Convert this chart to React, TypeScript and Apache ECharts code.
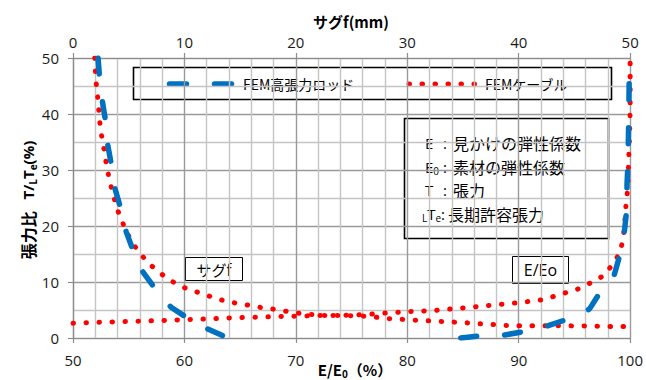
import { useEffect, useRef } from "react";
import * as echarts from "echarts";

// 張力比 vs サグf (top axis) — FEM高張力ロッド
const rodSagF = [2.25, 2.4, 2.6, 2.9, 3.1, 3.43, 3.75, 4.23, 4.77, 5.4, 5.8, 6.3, 7.4, 8.1, 8.8, 10.4, 11.3, 12.2, 13.9];
const rodSagT = [50, 46, 42.7, 39, 34.7, 31.1, 26.8, 23.5, 19, 15.6, 13.5, 11.7, 8.75, 7, 5.5, 3.4, 2.4, 1.5, 0];

// 張力比 vs E/E0 (bottom axis) — FEM高張力ロッド
const rodE = [84.8, 86.7, 88.75, 90.65, 92.65, 94.43, 95.5, 96.36, 97.4, 98.0, 98.58, 99.1, 99.5, 99.7, 99.72, 99.8, 99.84, 99.87, 99.9, 99.92, 99.94];
const rodET = [0, 0.4, 0.55, 1.2, 2.2, 3.4, 4.2, 5.2, 8.45, 9.9, 11.3, 15, 19.3, 23, 27.4, 31, 35, 39, 43.5, 47, 50];

// 張力比 vs サグf (top axis) — FEMケーブル
const cableSagF = [1.95, 2.0, 2.07, 2.2, 2.3, 2.4, 2.55, 2.75, 2.93, 3.14, 3.4, 3.7, 4.03, 4.47, 4.94, 5.54, 6.28, 7.04, 7.96, 8.9, 9.97, 11.0, 12.1, 13.3, 14.4, 15.5, 16.7, 17.85, 19.0, 20.1, 21.3, 22.5, 24, 25.8, 27, 28.3, 29.4, 30.6, 31.7, 32.9, 34, 35.2, 36.35, 37.5, 38.7, 40, 43, 46, 48, 50];
const cableSagT = [50, 48, 45.7, 43.3, 41, 38.6, 36.3, 34.1, 31.8, 29.5, 27.2, 24.9, 22.7, 20.5, 18.4, 16.4, 14.5, 12.9, 11.4, 10.1, 9.0, 8.3, 7.55, 6.8, 6.3, 5.95, 5.5, 5.2, 4.8, 4.46, 4.2, 4.04, 4.0, 3.95, 3.75, 3.45, 3.35, 3.2, 3.09, 2.96, 2.86, 2.73, 2.55, 2.43, 2.25, 2.2, 2.2, 2.14, 2.07, 2.07];

// 張力比 vs E/E0 (bottom axis) — FEMケーブル
const cableE = [50, 52, 54, 56, 58, 60, 62, 64, 66, 68, 70, 72, 74, 76, 78, 80, 82, 84, 86, 88, 90, 92, 93.3, 94.4, 95.4, 96.5, 97.6, 98.3, 99.0, 99.3, 99.47, 99.64, 99.76, 99.82, 99.85, 99.94, 99.97, 100, 100];
const cableET = [2.65, 2.78, 2.9, 3.0, 3.12, 3.28, 3.39, 3.58, 3.7, 3.8, 3.9, 4.0, 4.05, 4.15, 4.45, 4.7, 4.85, 5.2, 5.55, 5.95, 6.3, 6.8, 7.5, 8.2, 8.8, 9.9, 11.1, 12.8, 14.9, 17.0, 19.3, 24.1, 26.2, 28.6, 30.8, 35.5, 37.9, 40.3, 50];

const seriesNames = ["FEM高張力ロッド", "FEMケーブル"];
const noteLabels = ["E", "E0", "T", "LTe"];
const noteTexts = ["見かけの弾性係数", "素材の弾性係数", "張力", "長期許容張力"];

const NUM = "'Open Sans', 'Noto Sans CJK JP', sans-serif";
const JP = "'Noto Sans CJK JP', sans-serif";
const BLUE = "#0070c0";
const RED = "#ff0000";
const TEXT = "#000000";

const zip = (xs: number[], ys: number[]) => xs.map((x, i) => [x, ys[i]]);

const rodStyle = { color: BLUE, width: 5.5, type: [16, 28], cap: "round" as const };
const cableStyle = { color: RED, width: 5, type: [0.5, 12.5], cap: "round" as const };

export default function App() {
  const ref = useRef<HTMLDivElement>(null);

  useEffect(() => {
    if (!ref.current) return;
    const chart = echarts.init(ref.current, undefined, { renderer: "svg" });

    const axisCommon = {
      type: "value" as const,
      axisLine: { show: true, lineStyle: { color: "#8c8c8c", width: 1.2 } },
      axisTick: { show: true, length: 5, lineStyle: { color: "#8c8c8c", width: 1.2 } },
    };

    const noteRows = noteLabels.map((lab, i) => {
      const y = 143 + i * 23.5;
      let rich = "";
      if (lab === "E0") rich = "{m|E}{s|0}";
      else if (lab === "LTe") rich = "{s|L}{m|T}{s|e}";
      else rich = `{m|${lab}}`;
      const last = i === noteLabels.length - 1;
      return [
        {
          type: "text",
          x: last ? 422 : 425,
          y,
          style: {
            text: rich,
            textVerticalAlign: "middle",
            rich: {
              m: { fontFamily: NUM, fontSize: 15, fill: TEXT, verticalAlign: "middle", lineHeight: 18 },
              s: { fontFamily: NUM, fontSize: 10, fill: TEXT, verticalAlign: "bottom", lineHeight: 14, padding: [6, 0, 0, 0] },
            },
          },
        },
        {
          type: "text",
          x: last ? 441 : 443,
          y,
          style: { text: ":", font: `15px ${NUM}`, fill: TEXT, textVerticalAlign: "middle" },
        },
        {
          type: "text",
          x: last ? 448 : 453,
          y,
          style: { text: noteTexts[i], font: `16px ${JP}`, fill: TEXT, textVerticalAlign: "middle" },
        },
      ];
    }).flat();

    chart.setOption({
      animation: false,
      backgroundColor: "#ffffff",
      grid: { left: 73, right: 10, top: 58, bottom: 42, containLabel: false },
      xAxis: [
        {
          ...axisCommon,
          position: "bottom",
          min: 50,
          max: 100,
          interval: 10,
          axisLabel: { margin: 14, fontSize: 15, fontFamily: NUM, color: "#1a1a1a" },
          splitLine: { show: true, lineStyle: { color: "#9a9a9a", width: 1.4 } },
          minorTick: { show: false, splitNumber: 5 },
          minorSplitLine: { show: true, lineStyle: { color: "#c4c4c4", width: 1.4 } },
        },
        {
          ...axisCommon,
          position: "top",
          min: 0,
          max: 50,
          interval: 10,
          axisLabel: { margin: 9, fontSize: 15, fontFamily: NUM, color: "#1a1a1a" },
          splitLine: { show: false },
        },
      ],
      yAxis: {
        ...axisCommon,
        min: 0,
        max: 50,
        interval: 10,
        axisLabel: { margin: 14, fontSize: 15, fontFamily: NUM, color: "#1a1a1a" },
        splitLine: { show: true, lineStyle: { color: "#9a9a9a", width: 1.4 } },
        minorTick: { show: false, splitNumber: 2 },
        minorSplitLine: { show: true, lineStyle: { color: "#c4c4c4", width: 1.4 } },
      },
      series: [
        {
          name: seriesNames[1],
          type: "line",
          xAxisIndex: 1,
          data: zip(cableSagF, cableSagT),
          showSymbol: false,
          lineStyle: cableStyle,
        },
        {
          name: seriesNames[1],
          type: "line",
          xAxisIndex: 0,
          data: zip(cableE, cableET),
          showSymbol: false,
          lineStyle: cableStyle,
        },
        {
          name: seriesNames[0],
          type: "line",
          xAxisIndex: 1,
          data: zip(rodSagF, rodSagT),
          showSymbol: false,
          lineStyle: rodStyle,
        },
        {
          name: seriesNames[0],
          type: "line",
          xAxisIndex: 0,
          data: zip(rodE, rodET),
          showSymbol: false,
          lineStyle: rodStyle,
        },
      ],
      graphic: [
        // axis titles
        {
          type: "text",
          x: 351,
          y: 21,
          style: {
            text: "サグf(mm)",
            font: `bold 15px ${JP}`,
            fill: "#000",
            textAlign: "center",
            textVerticalAlign: "middle",
          },
        },
        {
          type: "text",
          x: 355,
          y: 369,
          style: {
            text: "{b|E/E}{s|0}{b|（%）}",
            textAlign: "center",
            textVerticalAlign: "middle",
            rich: {
              b: { font: `bold 15px ${JP}`, fill: "#000", verticalAlign: "middle", lineHeight: 18 },
              s: { font: `bold 10px ${JP}`, fill: "#000", verticalAlign: "bottom", lineHeight: 14, padding: [5, 0, 0, 0] },
            },
          },
        },
        {
          type: "text",
          x: 28,
          y: 200,
          rotation: Math.PI / 2,
          style: {
            text: "{a|張力比}{b|   T/}{s|L}{b|T}{s|e}{b|(%)}",
            textAlign: "center",
            textVerticalAlign: "middle",
            rich: {
              a: { font: `bold 16px ${JP}`, fill: "#000", verticalAlign: "middle", lineHeight: 20 },
              b: { font: `bold 15px ${NUM}`, fill: "#000", verticalAlign: "middle", lineHeight: 20 },
              s: { font: `bold 10px ${NUM}`, fill: "#000", verticalAlign: "bottom", lineHeight: 14, padding: [7, 0, 0, 0] },
            },
          },
        },
        // legend
        {
          type: "rect",
          shape: { x: 133.5, y: 67.5, width: 478, height: 32 },
          style: { fill: "#fff", stroke: "#000", lineWidth: 1.6 },
        },
        {
          type: "line",
          shape: { x1: 169.5, y1: 84, x2: 231.5, y2: 84 },
          style: { stroke: BLUE, lineWidth: 5.5, lineDash: [17, 28], lineCap: "round" },
        },
        {
          type: "text",
          x: 243,
          y: 84,
          style: { text: seriesNames[0], font: `14px ${JP}`, fill: TEXT, textVerticalAlign: "middle" },
        },
        {
          type: "line",
          shape: { x1: 409, y1: 84, x2: 475, y2: 84 },
          style: { stroke: RED, lineWidth: 5, lineDash: [0.5, 12.5], lineCap: "round" },
        },
        {
          type: "text",
          x: 485,
          y: 84,
          style: { text: seriesNames[1], font: `14px ${JP}`, fill: TEXT, textVerticalAlign: "middle" },
        },
        // notation box
        {
          type: "rect",
          shape: { x: 404.5, y: 118.5, width: 204, height: 120 },
          style: { fill: "#fff", stroke: "#000", lineWidth: 1.6 },
        },
        ...noteRows,
        // curve annotations
        {
          type: "rect",
          shape: { x: 185.5, y: 257.5, width: 57, height: 23 },
          style: { fill: "#fff", stroke: "#000", lineWidth: 1 },
        },
        {
          type: "text",
          x: 214,
          y: 269,
          style: { text: "サグf", font: `15px ${JP}`, fill: TEXT, textAlign: "center", textVerticalAlign: "middle" },
        },
        {
          type: "rect",
          shape: { x: 512.5, y: 256.5, width: 56, height: 27 },
          style: { fill: "#fff", stroke: "#000", lineWidth: 1 },
        },
        {
          type: "text",
          x: 540.5,
          y: 270,
          style: { text: "E/Eo", font: `16px ${NUM}`, fill: TEXT, textAlign: "center", textVerticalAlign: "middle" },
        },
      ],
    });

    return () => chart.dispose();
  }, []);

  return (
    <div
      ref={ref}
      style={{ position: "fixed", left: 0, top: 0, width: 646, height: 380, background: "#fff" }}
    />
  );
}
